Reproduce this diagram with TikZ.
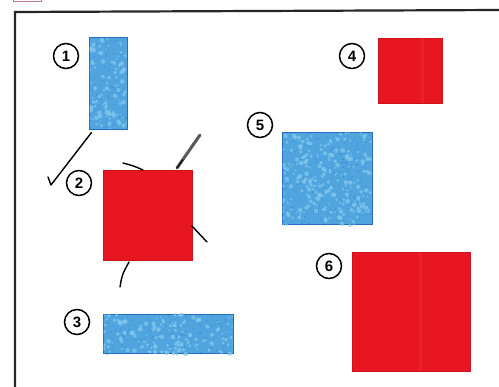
\documentclass[tikz,border=0pt]{standalone}
\usepackage{fontspec}
\setmainfont{Liberation Sans}
\usetikzlibrary{calc}
\begin{document}
\begin{tikzpicture}[x=1pt,y=-1pt,
  bluebox/.style={fill=blueF,draw=blueD,line width=1pt},
  redbox/.style={fill=redF,draw=redD,line width=0.6pt},
  numcirc/.style={circle,draw=black,line width=1.5pt,minimum size=25pt,inner sep=0pt,font=\bfseries\fontsize{15}{15}\selectfont},
  stroke/.style={line width=1.4pt,black,line cap=round}]
\definecolor{blueF}{RGB}{80,165,222}
\definecolor{blueL}{RGB}{130,200,240}
\definecolor{blueK}{RGB}{45,125,200}
\definecolor{blueD}{RGB}{40,110,190}
\definecolor{redF}{RGB}{232,22,32}
\definecolor{redL}{RGB}{240,60,70}
\definecolor{redD}{RGB}{205,20,30}
\useasboundingbox (0,0) rectangle (499,387);
\fill[white] (0,0) rectangle (499,387);
% top fragment
\draw[draw={rgb,255:red,190;green,120;blue,140},line width=1pt] (13,-5) rectangle (41,2);
% frame
\coordinate (fb) at (15,390);
\coordinate (fc) at (15,12);
\coordinate (fr) at (502,10);
\draw[line width=2.2pt,black!85] (fb) -- (fc) -- (fr);
% boxes
\node[bluebox,minimum width=38pt,minimum height=92pt,inner sep=0pt] (b1) at (108,84) {};
\node[redbox,minimum width=89pt,minimum height=90pt,inner sep=0pt] (b2) at (147.5,215) {};
\node[bluebox,minimum width=130pt,minimum height=39pt,inner sep=0pt] (b3) at (168,334.5) {};
\node[redbox,minimum width=64pt,minimum height=65pt,inner sep=0pt] (b4) at (410,70.5) {};
\node[bluebox,minimum width=90pt,minimum height=92pt,inner sep=0pt] (b5) at (327,179) {};
\node[redbox,minimum width=118pt,minimum height=119pt,inner sep=0pt] (b6) at (411,311.5) {};
% mottled texture on blue boxes
\pgfmathsetseed{7}
\foreach \b/\n in {b1/110,b3/150,b5/250}{
  \begin{scope}
    \clip ([shift={(1pt,-1pt)}]\b.south west) rectangle ([shift={(-1pt,1pt)}]\b.north east);
    \path (\b.south west); \pgfgetlastxy{\xa}{\ya}
    \path (\b.north east); \pgfgetlastxy{\xb}{\yb}
    \foreach \i in {1,...,\n}{
      \pgfmathsetmacro{\px}{\xa+rnd*(\xb-\xa)}
      \pgfmathsetmacro{\py}{\ya+rnd*(\yb-\ya)}
      \pgfmathsetmacro{\rr}{0.8+rnd*1.6}
      \fill[blueL,opacity=0.75] (\px pt,\py pt) circle[radius=\rr pt];
      \pgfmathsetmacro{\qx}{\xa+rnd*(\xb-\xa)}
      \pgfmathsetmacro{\qy}{\ya+rnd*(\yb-\ya)}
      \fill[blueK,opacity=0.5] (\qx pt,\qy pt) circle[radius=0.7pt];
    }
  \end{scope}
}
% faint lighter stripe on red squares
\fill[redL,opacity=0.3] ([xshift=11pt]b4.north) rectangle ([xshift=14pt]b4.south);
\fill[redL,opacity=0.3] ([xshift=8pt]b6.north) rectangle ([xshift=11pt]b6.south);
% numbers
\node[numcirc] (n1) at (66,56) {1};
\node[numcirc] (n2) at (79,183) {2};
\node[numcirc] (n3) at (77,322) {3};
\node[numcirc] (n4) at (352,56) {4};
\node[numcirc] (n5) at (260,125) {5};
\node[numcirc] (n6) at (329,266) {6};
% check mark
\coordinate (ck1) at (48,177);
\coordinate (ck2) at (51,185);
\draw[stroke,line join=round] (ck1) -- (ck2) -- ([xshift=3pt,yshift=-2pt]b1.south west);
% strokes around box 2
\coordinate (s1) at (123,163);
\coordinate (s2) at (143,170);
\draw[stroke] (s1) .. controls (134,166) .. (s2);
\coordinate (p1) at (177,168);
\coordinate (p2) at (200,135);
\draw[line width=3pt,black!65,line cap=round] (p1) -- (p2);
\draw[line width=1pt,black,line cap=round] (p1) -- ($(p1)!0.25!(p2)$);
\coordinate (r1) at (192,226);
\coordinate (r2) at (207,242);
\draw[stroke] (r1) -- (r2);
\coordinate (d1) at (129,262);
\coordinate (d2) at (120,287);
\draw[stroke] (d1) .. controls (122,275) .. (d2);
\end{tikzpicture}
\end{document}
